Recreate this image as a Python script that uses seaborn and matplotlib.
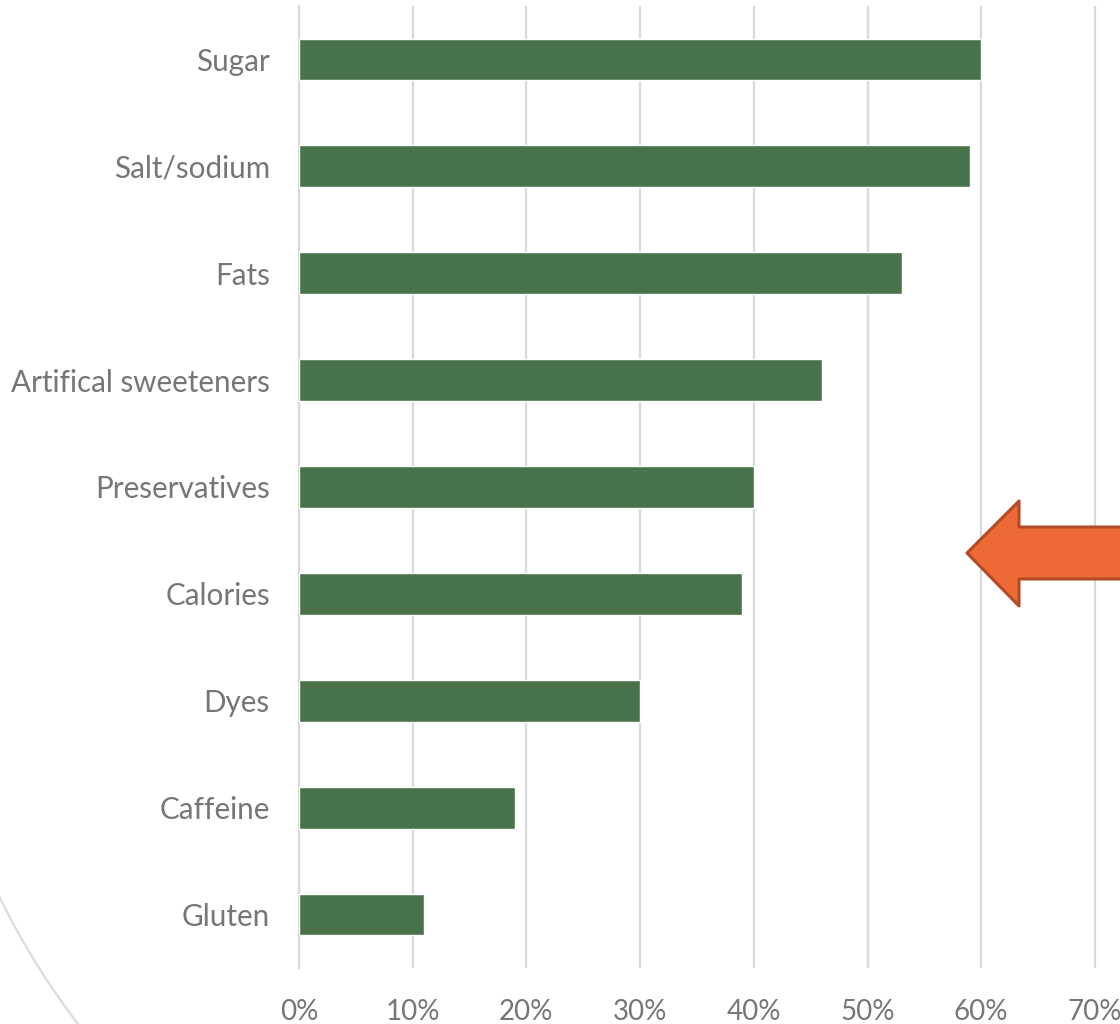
import numpy as np
import pandas as pd
import matplotlib
matplotlib.use("Agg")
import matplotlib.pyplot as plt
from matplotlib.patches import Polygon
from matplotlib.lines import Line2D
from matplotlib.ticker import FuncFormatter, MultipleLocator
import seaborn as sns

# Ingredients consumers try to avoid (share of respondents, %)
categories = ["Sugar", "Salt/sodium", "Fats", "Artifical sweeteners",
              "Preservatives", "Calories", "Dyes", "Caffeine", "Gluten"]
shares = [60, 59, 53, 46, 40, 39, 30, 19, 11]

df = pd.DataFrame({"ingredient": categories, "share": shares})

sns.set_theme(style="white")
plt.rcParams["font.family"] = ["Lato", "DejaVu Sans"]

W, H = 1120, 1024
fig = plt.figure(figsize=(W / 100, H / 100), dpi=100)

def px(x, y):
    """Pixel position (from top-left) to figure fraction."""
    return x / W, 1 - y / H

left, top = 299, 6
bottom = 968
ax = fig.add_axes([left / W, 1 - bottom / H, (W - left) / W, (bottom - top) / H])

bar_green = "#48734A"
sns.barplot(data=df, x="share", y="ingredient", orient="h", color=bar_green,
            saturation=1, width=0.39, ax=ax, zorder=3)

grid_color = "#d9d9d9"
ax.set_xlim(0, (W - left) / 113.7 * 10)
ax.set_ylim(len(categories) - 0.5, -0.5)
ax.xaxis.set_major_locator(MultipleLocator(10))
ax.xaxis.set_major_formatter(FuncFormatter(lambda v, _: f"{v:.0f}%"))
ax.grid(axis="x", color=grid_color, linewidth=1.6, zorder=0)
ax.set_axisbelow(True)
for side in ["top", "right", "bottom"]:
    ax.spines[side].set_visible(False)
ax.spines["left"].set_color(grid_color)
ax.spines["left"].set_linewidth(1.6)

ax.set_xlabel("")
ax.set_ylabel("")
label_color = "#767676"
ax.tick_params(axis="x", length=0, pad=22, labelsize=20, labelcolor=label_color)
ax.tick_params(axis="y", length=0, pad=21, labelsize=21.3, labelcolor=label_color)

# Orange call-out arrow pointing left
arrow_pts = [(967, 553), (1019, 501), (1019, 527), (1130, 527),
             (1130, 579), (1019, 579), (1019, 606)]
arrow = Polygon([px(x, y) for x, y in arrow_pts], closed=True,
                transform=fig.transFigure, facecolor="#ED6A36",
                edgecolor="#B34A25", linewidth=2.2, joinstyle="round",
                zorder=10)
fig.patches.append(arrow)

# Decorative faint arc in the lower-left corner (pixel space, y downward)
cx, cy, r = 669, 571, 744.6
a0 = np.arctan2(898 - cy, 0 - cx)
a1 = np.arctan2(1030 - cy, 86 - cx)
angles = np.linspace(a0 + 0.03, a1, 200)
xs = cx + r * np.cos(angles)
ys = cy + r * np.sin(angles)
fx, fy = zip(*[px(x, y) for x, y in zip(xs, ys)])
fig.add_artist(Line2D(fx, fy, transform=fig.transFigure, color="#dcdcdc",
                      linewidth=1.6))

fig.savefig("out.png", dpi=100, facecolor="white")
